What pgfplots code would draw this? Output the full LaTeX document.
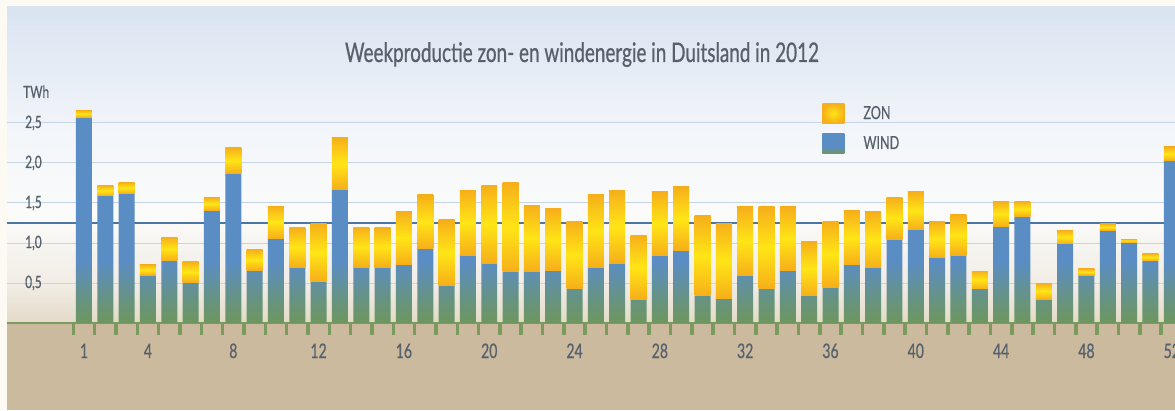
\documentclass[border=0pt]{standalone}
\usepackage{pgfplots}
\pgfplotsset{compat=1.18}
\usepackage{pgfplotstable}
\usepackage{fontspec}
\setmainfont{Lato}
\newfontfamily\cf{Lato}[FakeStretch=0.7, FakeBold=0.6]
\definecolor{outerbg}{HTML}{FCFAF3}
\definecolor{tan}{HTML}{CBBA9E}
\definecolor{basegreen}{HTML}{7C9A5E}
\definecolor{gridc}{HTML}{C6D4E4}
\definecolor{avgc}{HTML}{4A76A3}
\definecolor{windtop}{HTML}{5A8DC4}
\definecolor{windbot}{HTML}{6E965E}
\definecolor{zonout}{HTML}{F6AF1A}
\definecolor{zonin}{HTML}{FFE516}
\definecolor{txt}{HTML}{56616C}
\pgfdeclareverticalshading{panelshade}{100bp}{%
  color(0bp)=(rgb,255:red,227;green,217;blue,200);
  color(25bp)=(rgb,255:red,227;green,217;blue,200);
  color(31bp)=(rgb,255:red,241;green,236;blue,228);
  color(42bp)=(rgb,255:red,251;green,251;blue,250);
  color(55bp)=(rgb,255:red,243;green,246;blue,250);
  color(75bp)=(rgb,255:red,217;green,227;blue,241);
  color(100bp)=(rgb,255:red,217;green,227;blue,241)}
\pgfdeclareverticalshading{windshade}{100bp}{%
  color(0bp)=(windbot); color(25bp)=(windbot); color(30bp)=(windbot!70!windtop);
  color(40bp)=(windtop); color(100bp)=(windtop)}

\pgfplotstableread{
week wind zon
1 2.57 0.09
2 1.59 0.13
3 1.62 0.14
4 0.60 0.13
5 0.78 0.29
6 0.51 0.26
7 1.41 0.16
8 1.87 0.32
9 0.66 0.26
10 1.06 0.40
11 0.70 0.49
12 0.52 0.73
13 1.67 0.65
14 0.70 0.50
15 0.70 0.50
16 0.73 0.66
17 0.93 0.67
18 0.47 0.82
19 0.85 0.81
20 0.75 0.97
21 0.64 1.11
22 0.65 0.82
23 0.66 0.77
24 0.43 0.84
25 0.70 0.90
26 0.75 0.91
27 0.30 0.80
28 0.84 0.80
29 0.91 0.79
30 0.34 1.00
31 0.31 0.94
32 0.59 0.86
33 0.43 1.02
34 0.66 0.79
35 0.34 0.68
36 0.45 0.82
37 0.73 0.67
38 0.69 0.70
39 1.05 0.52
40 1.17 0.47
41 0.82 0.45
42 0.85 0.50
43 0.43 0.22
44 1.21 0.31
45 1.33 0.19
46 0.30 0.20
47 0.99 0.17
48 0.60 0.08
49 1.16 0.08
50 1.01 0.04
51 0.78 0.09
52 2.03 0.17
}\datatable

\begin{document}
\begin{tikzpicture}[x=1pt,y=1pt]
\useasboundingbox (0,0) rectangle (1175,410);
\clip (0,0) rectangle (1175,410);
\fill[outerbg] (0,0) rectangle (1175,410);
\shade[shading=panelshade] (7,87) rectangle (1175,403);
\fill[tan] (7,0) rectangle (1175,87);
\node[anchor=base, text=txt, font=\cf\fontsize{27}{27}\selectfont, inner sep=0pt] at (582,348) {Weekproductie zon- en windenergie in Duitsland in 2012};
\node[anchor=base west, text=txt, font=\cf\fontsize{17}{17}\selectfont, inner sep=0pt] at (23,312) {TWh};
\begin{axis}[
  at={(7pt,87pt)}, anchor=south west,
  width=1168pt, height=316pt, scale only axis,
  xmin=-2.61, xmax=52.15, ymin=0, ymax=3.95,
  axis line style={draw=none},
  ybar stacked, bar width=0.75,
  xtick={1,4,8,12,16,20,24,28,32,36,40,44,48,52},
  xticklabels={1,4,8,12,16,20,24,28,32,36,40,44,48,52},
  minor xtick={0.5,1.5,...,51.5},
  tick pos=left,
  major tick length=0pt, minor tick length=12pt, tick align=outside,
  minor tick style={draw=basegreen, line width=3.5pt},
  ytick={0.5,1,1.5,2,2.5},
  yticklabels={{0,5},{1,0},{1,5},{2,0},{2,5}},
  ytick style={draw=none},
  ymajorgrids, grid style={draw=gridc, line width=1pt},
  xticklabel style={anchor=base, yshift=-35pt, inner sep=0pt, text=txt, font=\cf\fontsize{20}{20}\selectfont},
  yticklabel style={anchor=base west, xshift=18pt, yshift=-5pt, inner sep=0pt, text=txt, font=\cf\fontsize{17}{17}\selectfont},
  reverse legend, legend cell align=left,
  legend style={at={(rel axis cs:0.698,0.696)}, anchor=north west, draw=none, fill=none, inner sep=0pt, row sep=10pt, column sep=19pt,
    nodes={inner sep=0pt, text=txt, font=\cf\fontsize{18}{18}\selectfont}},
]
\addplot[draw=none, shading=windshade,
  legend image code/.code={\shade[shading=windshade] (0pt,-10pt) rectangle (22pt,10pt);}]
  table[x=week, y=wind] {\datatable};
\addlegendentry{WIND}
\addplot[draw=none, fill=none, scatter, mark=*, mark size=0pt, mark options={draw=none, fill=none},
  visualization depends on={\thisrow{zon} \as \zv},
  scatter/@pre marker code/.code={\shade[top color=zonout, bottom color=zonout, middle color=zonin] (axis direction cs:-0.375,0) rectangle (axis direction cs:0.375,-\zv);},
  scatter/@post marker code/.code={},
  legend image code/.code={\shade[inner color=zonin, outer color=zonout] (0pt,-10pt) rectangle (22pt,10pt);}]
  table[x=week, y=zon] {\datatable};
\addlegendentry{ZON}
\draw[basegreen, line width=3pt] (rel axis cs:0,0) -- (rel axis cs:1,0);
\draw[avgc, line width=1.5pt] (axis cs:-2.61,1.25) -- (axis cs:52.15,1.25);
\end{axis}
\end{tikzpicture}
\end{document}
